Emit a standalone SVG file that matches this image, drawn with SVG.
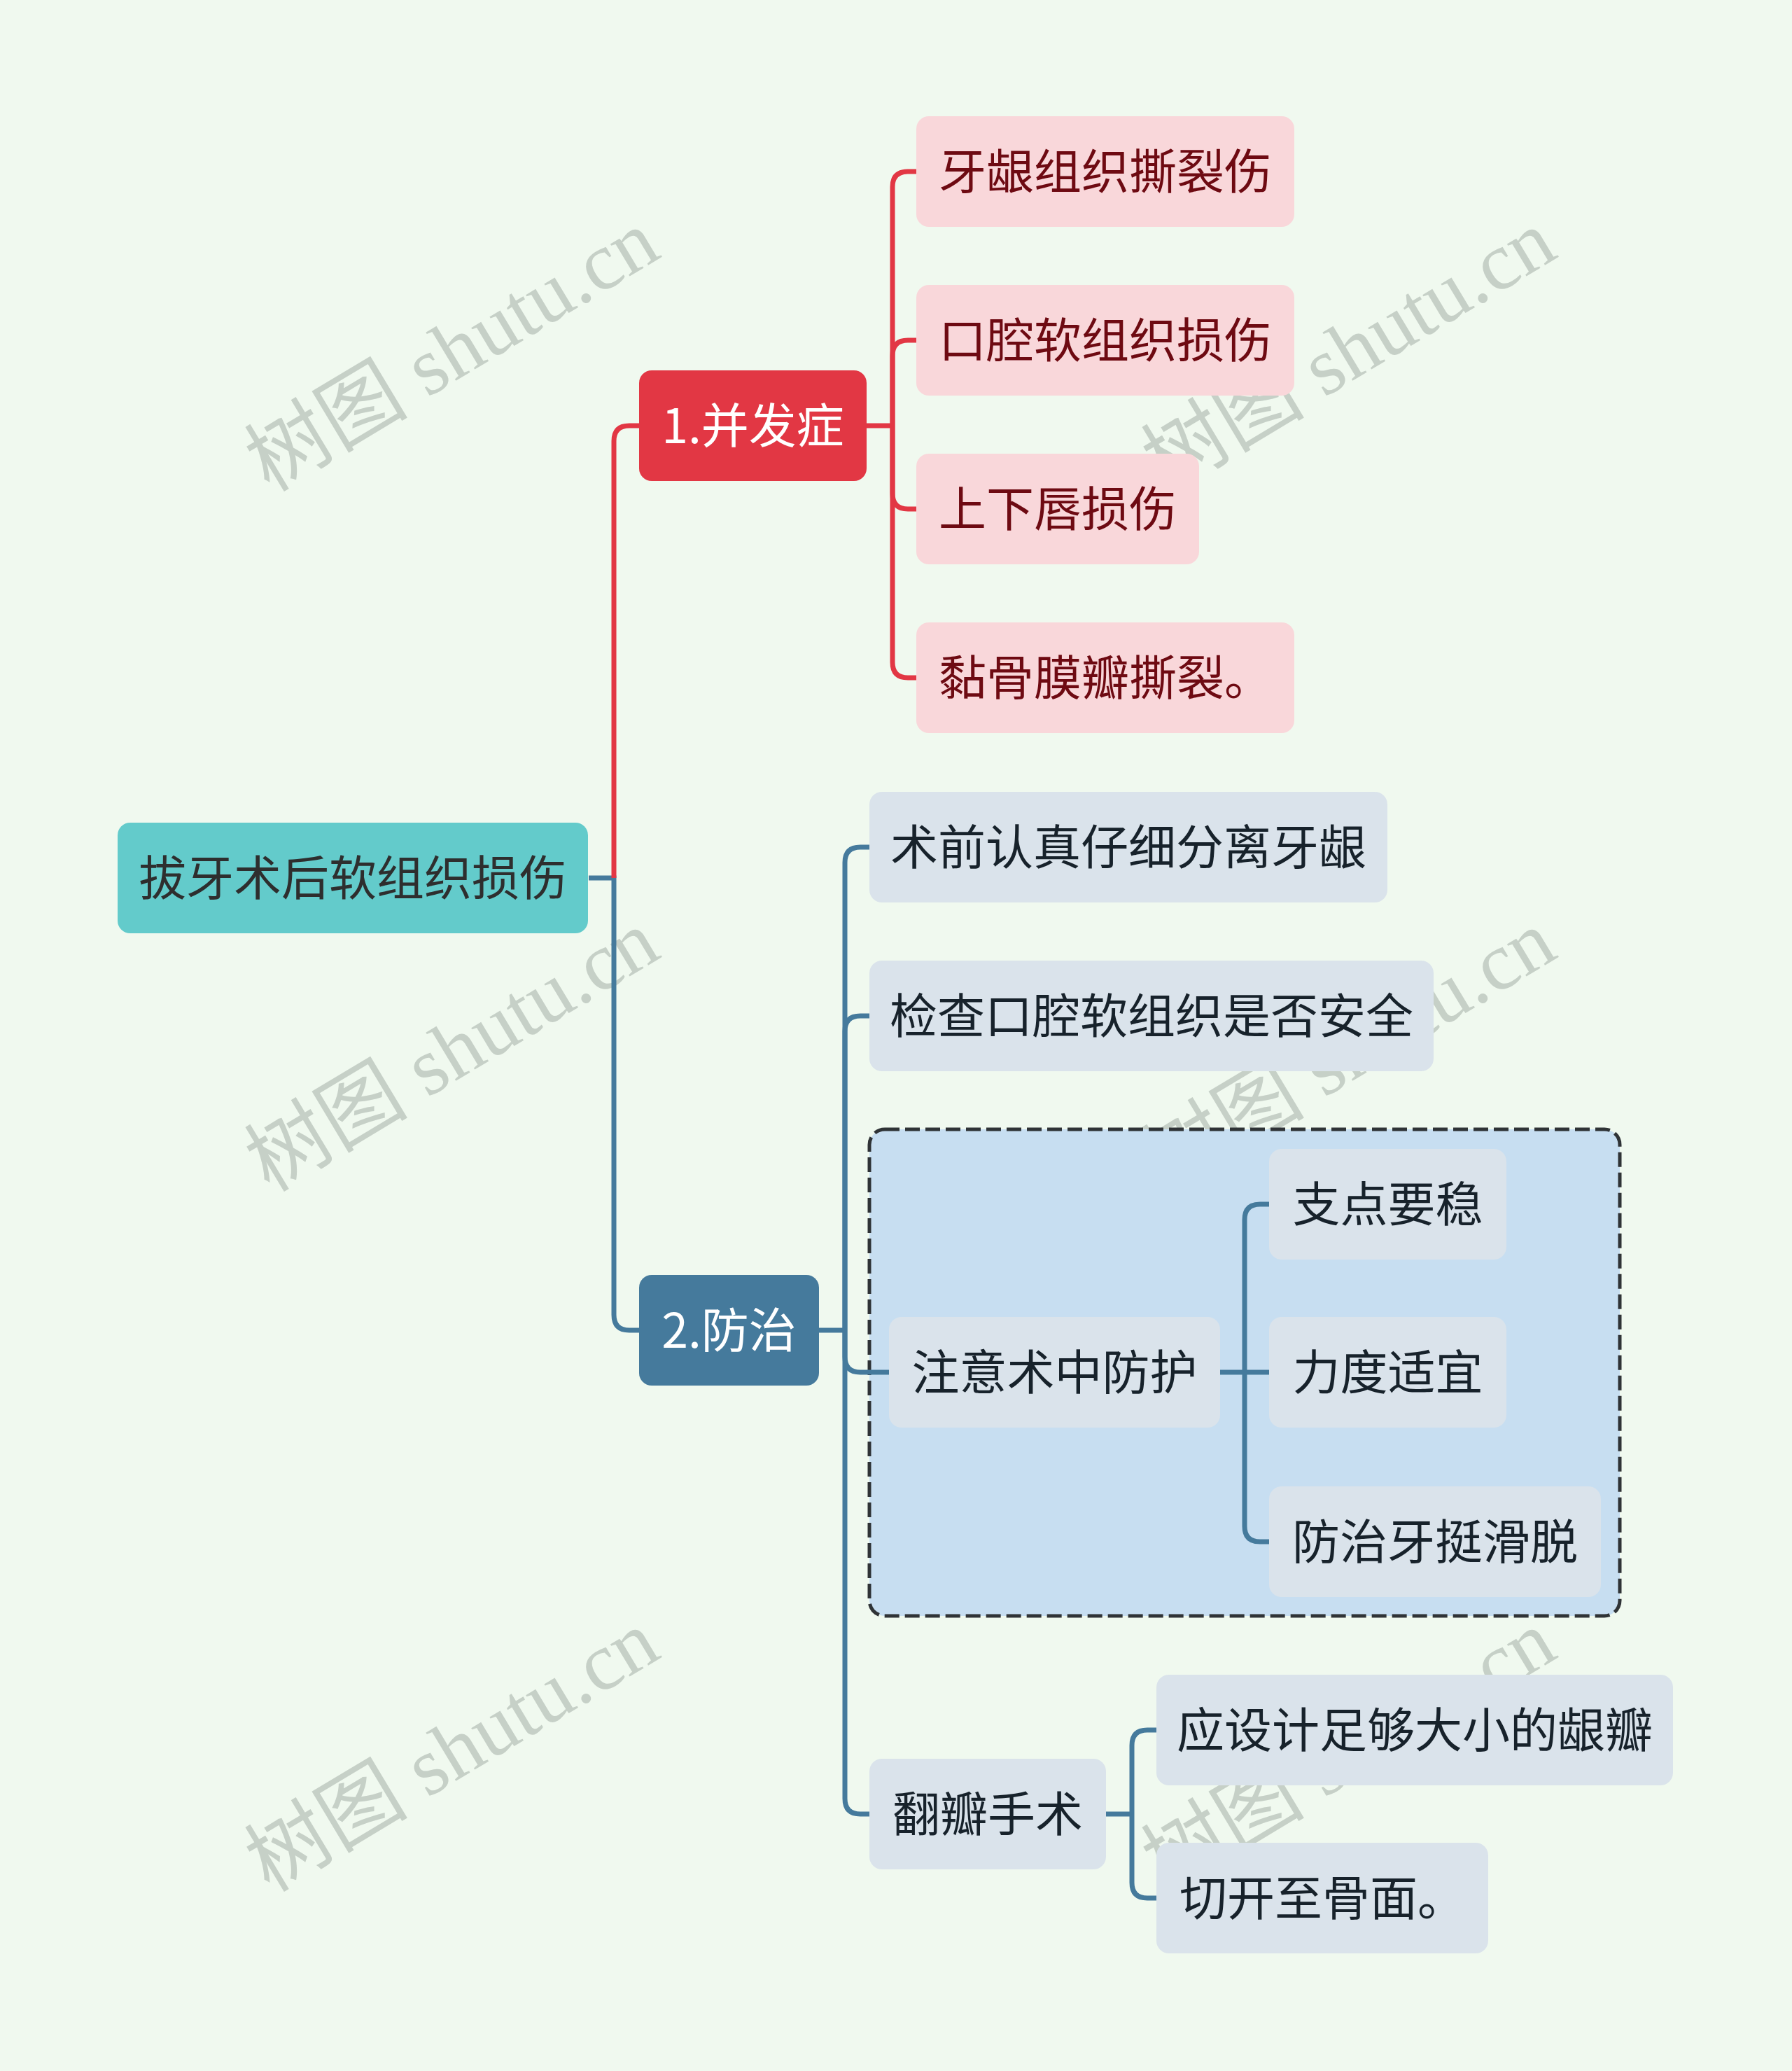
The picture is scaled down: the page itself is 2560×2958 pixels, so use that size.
<svg xmlns="http://www.w3.org/2000/svg" width="2560" height="2958" viewBox="0 0 2560 2958">
<style>
.t{font-family:"Noto Sans CJK SC","Noto Sans",sans-serif;font-size:68px;text-anchor:middle}
.wm{font-family:"Liberation Serif","Noto Sans CJK SC",serif;font-size:117px;fill:#c6d0c7;text-anchor:middle}
.pink rect{fill:#F9D7DA}
.pink text{fill:#6E0A12}
.sub rect{fill:#DAE3EB}
.sub text{fill:#17222B}
.cr{fill:none;stroke:#E23744;stroke-width:7}
.cb{fill:none;stroke:#457A9C;stroke-width:7}
</style>
<rect x="0" y="0" width="2560" height="2958" fill="#F0F9EF"/>
<g id="watermarks">
<text class="wm" transform="translate(666,535) rotate(-31)">树图 shutu.cn</text>
<text class="wm" transform="translate(1947,535) rotate(-31)">树图 shutu.cn</text>
<text class="wm" transform="translate(666,1535) rotate(-31)">树图 shutu.cn</text>
<text class="wm" transform="translate(1947,1535) rotate(-31)">树图 shutu.cn</text>
<text class="wm" transform="translate(666,2535) rotate(-31)">树图 shutu.cn</text>
<text class="wm" transform="translate(1947,2535) rotate(-31)">树图 shutu.cn</text>
</g>
<g id="boundary">
<rect x="1242" y="1613" width="1072" height="695" rx="22" fill="#C7DEF1" stroke="#2F3336" stroke-width="5" stroke-dasharray="21 8"/>
</g>
<g id="connectors">
<path class="cb" d="M841,1254 H877 V1878 Q877,1900 899,1900 H913"/>
<path class="cr" d="M877,1254 V630 Q877,608 899,608 H913"/>
<path class="cr" d="M1238,608 H1275"/>
<path class="cr" d="M1275,608 V267 Q1275,245 1297,245 H1309"/>
<path class="cr" d="M1275,608 V508 Q1275,486 1297,486 H1309"/>
<path class="cr" d="M1275,608 V705 Q1275,727 1297,727 H1309"/>
<path class="cr" d="M1275,608 V946 Q1275,968 1297,968 H1309"/>
<path class="cb" d="M1170,1900 H1207"/>
<path class="cb" d="M1207,1900 V1232 Q1207,1210 1229,1210 H1242"/>
<path class="cb" d="M1207,1900 V1473 Q1207,1451 1229,1451 H1242"/>
<path class="cb" d="M1207,1900 V1938 Q1207,1960 1229,1960 H1270"/>
<path class="cb" d="M1207,1900 V2569 Q1207,2591 1229,2591 H1242"/>
<path class="cb" d="M1743,1960 H1778"/>
<path class="cb" d="M1778,1960 V1742 Q1778,1720 1800,1720 H1813"/>
<path class="cb" d="M1778,1960 H1813"/>
<path class="cb" d="M1778,1960 V2180 Q1778,2202 1800,2202 H1813"/>
<path class="cb" d="M1580,2591 H1617"/>
<path class="cb" d="M1617,2591 V2493 Q1617,2471 1639,2471 H1652"/>
<path class="cb" d="M1617,2591 V2689 Q1617,2711 1639,2711 H1652"/>
</g>
<g id="root">
<rect x="168" y="1175" width="672" height="158" rx="18" fill="#63CBCB"/>
<text class="t" x="504" y="1279" fill="#2E2E2E">拔牙术后软组织损伤</text>
</g>
<g id="n1">
<rect x="913" y="529" width="325" height="158" rx="18" fill="#E23744"/>
<text class="t" x="1075.5" y="633" fill="#FFFFFF">1.并发症</text>
</g>
<g id="n1-1" class="pink">
<rect x="1309" y="166" width="540" height="158" rx="18"/>
<text class="t" x="1579" y="270">牙龈组织撕裂伤</text>
</g>
<g id="n1-2" class="pink">
<rect x="1309" y="407" width="540" height="158" rx="18"/>
<text class="t" x="1579" y="511">口腔软组织损伤</text>
</g>
<g id="n1-3" class="pink">
<rect x="1309" y="648" width="404" height="158" rx="18"/>
<text class="t" x="1511" y="752">上下唇损伤</text>
</g>
<g id="n1-4" class="pink">
<rect x="1309" y="889" width="540" height="158" rx="18"/>
<text class="t" x="1579" y="993">黏骨膜瓣撕裂。</text>
</g>
<g id="n2">
<rect x="913" y="1821" width="257" height="158" rx="18" fill="#457A9C"/>
<text class="t" x="1041.5" y="1925" fill="#FFFFFF">2.防治</text>
</g>
<g id="n2-1" class="sub">
<rect x="1242" y="1131" width="740" height="158" rx="18"/>
<text class="t" x="1612" y="1235">术前认真仔细分离牙龈</text>
</g>
<g id="n2-2" class="sub">
<rect x="1242" y="1372" width="806" height="158" rx="18"/>
<text class="t" x="1645" y="1476">检查口腔软组织是否安全</text>
</g>
<g id="n2-3" class="sub">
<rect x="1270" y="1881" width="473" height="158" rx="18"/>
<text class="t" x="1506.5" y="1985">注意术中防护</text>
</g>
<g id="n2-3-1" class="sub">
<rect x="1813" y="1641" width="339" height="158" rx="18"/>
<text class="t" x="1982.5" y="1745">支点要稳</text>
</g>
<g id="n2-3-2" class="sub">
<rect x="1813" y="1881" width="339" height="158" rx="18"/>
<text class="t" x="1982.5" y="1985">力度适宜</text>
</g>
<g id="n2-3-3" class="sub">
<rect x="1813" y="2123" width="474" height="158" rx="18"/>
<text class="t" x="2050" y="2227">防治牙挺滑脱</text>
</g>
<g id="n2-4" class="sub">
<rect x="1242" y="2512" width="338" height="158" rx="18"/>
<text class="t" x="1411" y="2616">翻瓣手术</text>
</g>
<g id="n2-4-1" class="sub">
<rect x="1652" y="2392" width="738" height="158" rx="18"/>
<text class="t" x="2021" y="2496">应设计足够大小的龈瓣</text>
</g>
<g id="n2-4-2" class="sub">
<rect x="1652" y="2632" width="474" height="158" rx="18"/>
<text class="t" x="1889" y="2736">切开至骨面。</text>
</g>
</svg>
